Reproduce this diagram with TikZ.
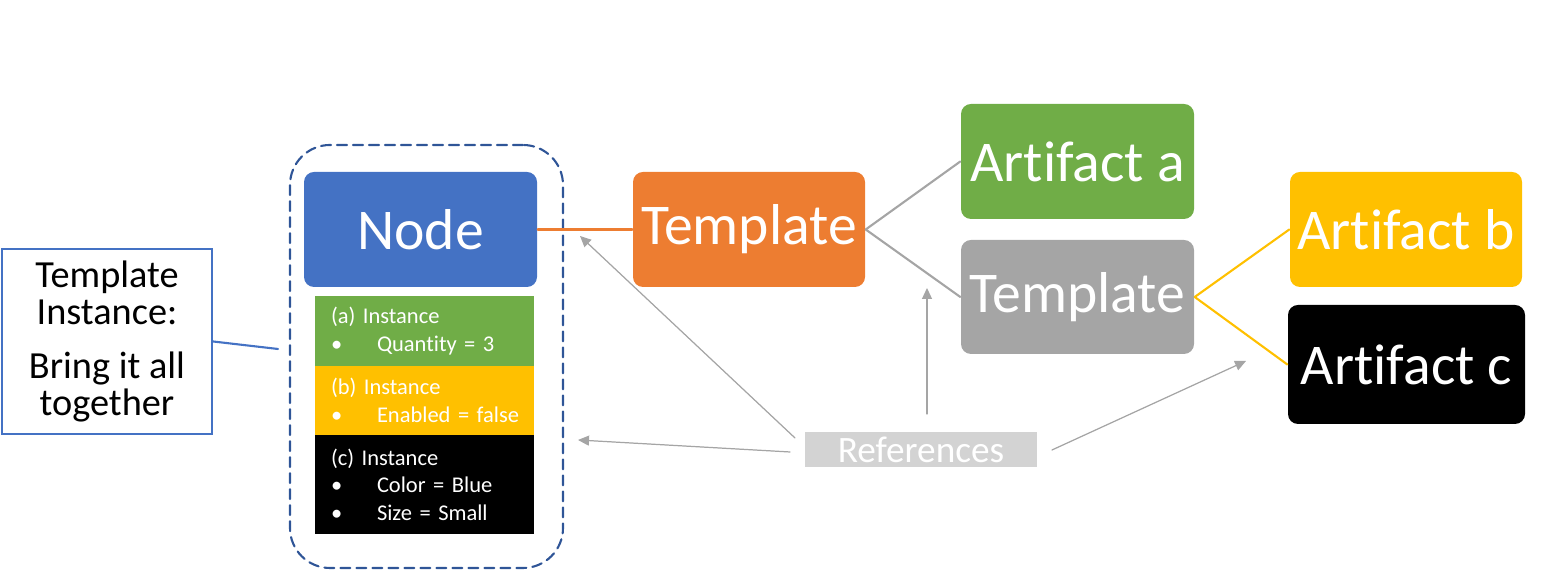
\documentclass[tikz,border=0pt]{standalone}
\usepackage{fontspec}
\setmainfont{Carlito}[Ligatures=NoCommon]
\usetikzlibrary{arrows.meta}
\definecolor{nodeblue}{HTML}{4472C4}
\definecolor{dashblue}{HTML}{2F5597}
\definecolor{tplorange}{HTML}{ED7D31}
\definecolor{artgreen}{HTML}{70AD47}
\definecolor{tplgray}{HTML}{A5A5A5}
\definecolor{artyellow}{HTML}{FFC000}
\definecolor{refgray}{HTML}{D3D3D3}
\newcommand{\instline}[1]{\makebox[0.46cm][l]{\textbullet}\mbox{#1}}
\begin{document}
\begin{tikzpicture}[>={Triangle[length=1.1mm,width=1mm]},line cap=round,
  bigbox/.style={rounded corners=1mm,minimum width=2.32cm,minimum height=1.15cm,inner sep=0pt,text=white,font=\fontsize{16.4}{19}\selectfont},
  instbox/.style={minimum width=2.19cm,text width=1.87cm,inner xsep=0.16cm,inner ysep=0pt,align=left,text=white,font=\fontsize{6.4}{7.8}\selectfont},
  link/.style={line width=0.6pt},
  refarrow/.style={->,draw=tplgray,fill=tplgray,line width=0.35pt}]
\useasboundingbox (0,0) rectangle (15.5,5.7);
% grouping box round the node and its instances
\node[draw=dashblue,dashed,dash pattern=on 0.1cm off 0.06cm,line width=0.6pt,rounded corners=0.4cm,minimum width=2.73cm,minimum height=4.23cm] (group) at (4.265,2.135) {};
\node[draw=nodeblue,line width=0.6pt,minimum width=2.1cm,minimum height=1.81cm,align=center,font=\fontsize{10.9}{10.5}\selectfont] (callout) at (1.07,2.285) {Template\\Instance:\\[5pt]Bring it all\\together};
\coordinate (callend) at (2.78,2.21);
\draw[nodeblue,line width=0.6pt] (callout.east) -- (callend);
\node[bigbox,fill=nodeblue,minimum width=2.33cm] (node) at (4.205,3.405) {Node};
\node[instbox,fill=artgreen,minimum height=0.70cm] (insta) at (4.245,2.39) {(a) Instance\\\instline{Quantity = 3}};
\node[instbox,fill=artyellow,minimum height=0.69cm] (instb) at (4.245,1.695) {(b) Instance\\\instline{Enabled = false}};
\node[instbox,fill=black,minimum height=0.99cm] (instc) at (4.245,0.855) {(c) Instance\\\instline{Color = Blue}\\\instline{Size = Small}};
% templates and artifacts
\node[bigbox,fill=tplorange] (tpla) at (7.49,3.405) {Template};
\node[bigbox,fill=artgreen,minimum width=2.33cm] (arta) at (10.775,4.085) {Artifact a};
\node[bigbox,fill=tplgray,minimum width=2.33cm,minimum height=1.14cm] (tplb) at (10.775,2.73) {Template};
\node[bigbox,fill=artyellow] (artb) at (14.06,3.405) {Artifact b};
\node[bigbox,fill=black,minimum width=2.37cm,minimum height=1.19cm] (artc) at (14.065,2.055) {Artifact c};
\draw[link,tplorange] (node.east) -- (tpla.west);
\draw[link,tplgray] (tpla.east) -- (arta.west);
\draw[link,tplgray] (tpla.east) -- (tplb.west);
\draw[link,artyellow] (tplb.east) -- (artb.west);
\draw[link,artyellow] (tplb.east) -- (artc.west);
% references
\node[fill=refgray,minimum width=2.32cm,minimum height=0.35cm,inner sep=0pt,text=white,font=\fontsize{10.6}{13}\selectfont] (refs) at (9.21,1.205) {References};
\coordinate (rs1) at (7.95,1.32);
\coordinate (re1) at (5.80,3.34);
\coordinate (rs2) at (7.90,1.18);
\coordinate (re2) at (5.78,1.30);
\coordinate (rs3) at (9.27,1.56);
\coordinate (re3) at (9.27,2.82);
\coordinate (rs4) at (10.52,1.20);
\coordinate (re4) at (12.46,2.09);
\draw[refarrow] (rs1) -- (re1);
\draw[refarrow] (rs2) -- (re2);
\draw[refarrow] (rs3) -- (re3);
\draw[refarrow] (rs4) -- (re4);
\end{tikzpicture}
\end{document}
